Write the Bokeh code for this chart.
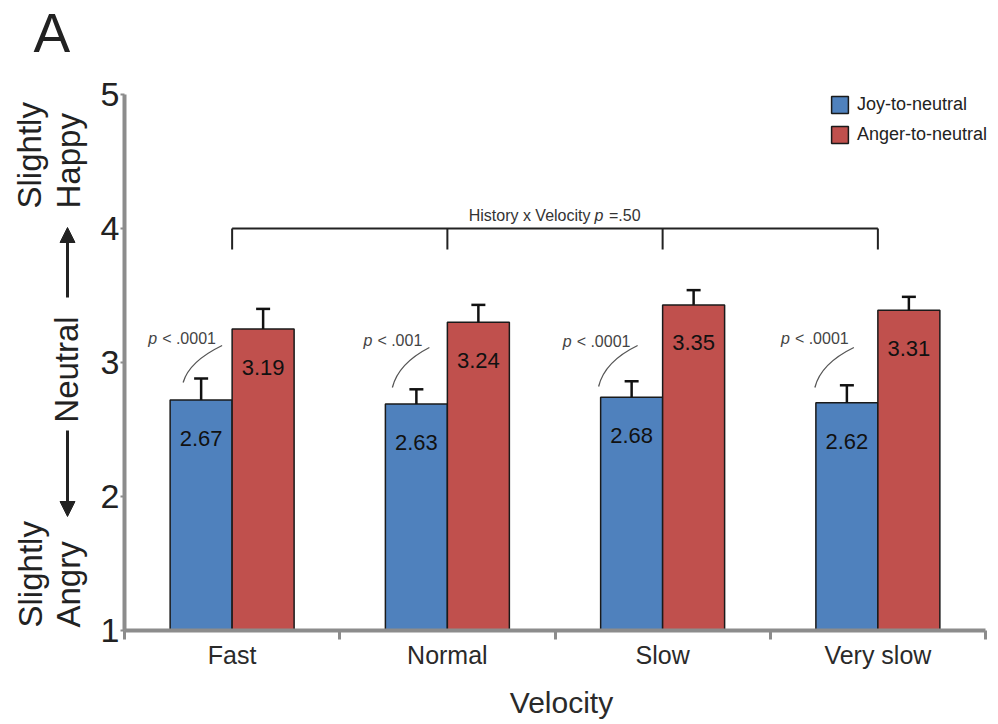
import numpy as np
from math import pi
from bokeh.plotting import figure
from bokeh.layouts import row
from bokeh.models import (ColumnDataSource, Range1d, FixedTicker, Legend, LegendItem,
                          Label, Arrow, NormalHead, Whisker, TeeHead)
from bokeh.core.properties import value
from bokeh.embed import file_html
from bokeh.resources import INLINE

# ---------------- data ----------------
categories = ["Fast", "Normal", "Slow", "Very slow"]
series = ["Joy-to-neutral", "Anger-to-neutral"]
joy_means = [2.72, 2.69, 2.74, 2.70]
anger_means = [3.25, 3.30, 3.43, 3.39]
joy_err_top = [2.88, 2.80, 2.86, 2.83]
anger_err_top = [3.40, 3.43, 3.54, 3.49]
joy_labels = ["2.67", "2.63", "2.68", "2.62"]
anger_labels = ["3.19", "3.24", "3.35", "3.31"]
p_values = ["< .0001", "< .001", "< .0001", "< .0001"]
interaction_text = "History x Velocity"
interaction_p = "=.50"
y_ticks = [1, 2, 3, 4, 5]
x_title = "Velocity"
panel_label = "A"
y_words_top = ["Slightly", "Happy"]
y_word_mid = "Neutral"
y_words_bottom = ["Slightly", "Angry"]

# ---------------- layout ----------------
FONT = "Liberation Sans"
PAGE_W, PAGE_H = 998, 724
LEFT_W = 90                      # side panel with the semantic y labels
MAIN_W = PAGE_W - LEFT_W
AX_X0, AX_X1 = 124, 985          # page px of x = 0 and x = 4
AX_Y1, AX_Y5 = 630, 94           # page px of y = 1 and y = 5
SX = (AX_X1 - AX_X0) / 4.0       # px per x unit
SY = (AX_Y1 - AX_Y5) / 4.0       # px per y unit
PXX, PXY = 1 / SX, 1 / SY
BOTTOM = PAGE_H - AX_Y1

def X(px):
    return (px - AX_X0) * PXX

def Y(py):
    return 1 + (AX_Y1 - py) * PXY

BLUE, RED = "#4F81BD", "#C0504D"
AX = "#8c8c8c"
INK = "#222222"

xc = np.arange(len(categories)) + 0.5
bw = 0.288

x_range = Range1d(0, X(PAGE_W))
y_range = Range1d(1, Y(0))
p = figure(width=MAIN_W, height=PAGE_H, x_range=x_range, y_range=y_range, title=None,
           output_backend="svg", toolbar_location=None,
           min_border_left=AX_X0 - LEFT_W, min_border_right=0, min_border_top=0,
           min_border_bottom=BOTTOM)
p.outline_line_color = None
p.xgrid.visible = False
p.ygrid.visible = False

joy_src = ColumnDataSource(dict(x=xc - bw / 2, top=joy_means, err=joy_err_top, lab=joy_labels,
                                ly=np.array(joy_means) - 38.5 * PXY))
ang_src = ColumnDataSource(dict(x=xc + bw / 2, top=anger_means, err=anger_err_top, lab=anger_labels,
                                ly=np.array(anger_means) - 38 * PXY))

r_joy = p.vbar(x="x", top="top", bottom=1, width=bw, source=joy_src,
               fill_color=BLUE, line_color="#1a1a1a", line_width=1.5)
r_ang = p.vbar(x="x", top="top", bottom=1, width=bw, source=ang_src,
               fill_color=RED, line_color="#1a1a1a", line_width=1.5)

for s in (joy_src, ang_src):
    w = Whisker(source=s, base="x", lower="top", upper="err",
                upper_head=TeeHead(size=14, line_width=2.5, line_color="#111111"),
                lower_head=None, line_width=2.5, line_color="#111111", level="glyph")
    p.add_layout(w)
    p.text(x="x", y="ly", text="lab", source=s, text_align="center", text_baseline="middle",
           text_font=value(FONT), text_font_size="22px", text_color="#111111")

# ---------------- p-value annotations ----------------
txt_dx = np.array([-84, -84, -100, -97]) * PXX
txt_mid = [Y(338), Y(340), Y(341), Y(338)]
arc_x0 = xc + np.array([-49, -55, -64, -63]) * PXX
arc_x1 = xc + np.array([-10, -18, -25, -24]) * PXX
arc_y0 = [Y(382), Y(387), Y(386), Y(387)]
arc_y1 = [Y(345), Y(347), Y(345), Y(347)]
p.text(x=list(xc + txt_dx), y=txt_mid, text=["p"] * len(categories),
       text_font=value(FONT), text_font_size="16px", text_font_style="italic",
       text_color="#444444", text_baseline="middle", text_align="left")
p.text(x=list(xc + txt_dx), y=txt_mid, text=p_values, x_offset=14,
       text_font=value(FONT), text_font_size="16px",
       text_color="#444444", text_baseline="middle", text_align="left")
p.quadratic(x0=list(arc_x0), y0=arc_y0, x1=list(arc_x1), y1=arc_y1,
            cx=list(arc_x0 + 6 * PXX), cy=list(np.array(arc_y1) - 16 * PXY),
            line_color="#555555", line_width=1.3)

# ---------------- interaction bracket ----------------
br_y, br_tick = 4.0, 21 * PXY
p.segment(x0=[xc[0]], x1=[xc[-1]], y0=[br_y], y1=[br_y], line_color=INK, line_width=2)
p.segment(x0=list(xc), x1=list(xc), y0=[br_y] * len(xc), y1=[br_y - br_tick] * len(xc),
          line_color=INK, line_width=2)
mid = float(np.mean([xc[0], xc[-1]]))
by = Y(215)
hist_style = dict(text_baseline="middle", text_font=FONT, text_font_size="16px",
                  text_color="#333333")
p.add_layout(Label(x=mid, y=by, x_offset=35.5, text=interaction_text, text_align="right",
                   **hist_style))
p.add_layout(Label(x=mid, y=by, x_offset=39.5, text="p", text_align="left",
                   text_font_style="italic", **hist_style))
p.add_layout(Label(x=mid, y=by, x_offset=54, text=interaction_p, text_align="left",
                   **hist_style))

# ---------------- axes ----------------
xa = p.xaxis[0]
xa.bounds = (0, 4)
xa.ticker = FixedTicker(ticks=list(xc), minor_ticks=[0, 1, 2, 3, 4])
xa.major_label_overrides = {float(x): c for x, c in zip(xc, categories)}
xa.major_tick_out = 0
xa.major_tick_in = 0
xa.minor_tick_out = 9
xa.minor_tick_in = 0
xa.minor_tick_line_color = AX
xa.minor_tick_line_width = 3
xa.axis_line_color = AX
xa.axis_line_width = 4
xa.major_label_standoff = 1
xa.major_label_text_font = FONT
xa.major_label_text_font_size = "25px"
xa.major_label_text_color = "#2a2a2a"
xa.axis_label = x_title
xa.axis_label_text_font = FONT
xa.axis_label_text_font_size = "30px"
xa.axis_label_text_font_style = "normal"
xa.axis_label_text_color = "#2a2a2a"
xa.axis_label_standoff = 14

ya = p.yaxis[0]
ya.bounds = (1, 5)
ya.ticker = FixedTicker(ticks=y_ticks, minor_ticks=[])
ya.major_tick_out = 4
ya.major_tick_in = 0
ya.major_tick_line_color = AX
ya.major_tick_line_width = 2
ya.axis_line_color = AX
ya.axis_line_width = 4
ya.major_label_standoff = 1
ya.major_label_text_font = FONT
ya.major_label_text_font_size = "34px"
ya.major_label_text_color = INK

# ---------------- legend ----------------
legend = Legend(items=[LegendItem(label=series[0], renderers=[r_joy]),
                       LegendItem(label=series[1], renderers=[r_ang])],
                location=(831 - 2 - AX_X0, AX_Y1 - 145), orientation="vertical",
                glyph_width=21, glyph_height=21, label_height=20, label_standoff=7,
                spacing=9, padding=0, margin=0, border_line_color=None,
                background_fill_alpha=0, label_text_font=FONT,
                label_text_font_size="18px", label_text_color=INK)
p.add_layout(legend)

# ---------------- left panel: panel label & semantic y labels ----------------
# its frame is aligned with the main frame (page y 0 .. AX_Y1); data y = PAGE_H - page y
lp = figure(width=LEFT_W, height=PAGE_H, x_range=Range1d(0, LEFT_W),
            y_range=Range1d(BOTTOM, PAGE_H),
            title=None, output_backend="svg", toolbar_location=None,
            x_axis_type=None, y_axis_type=None,
            min_border_left=0, min_border_right=0, min_border_top=0, min_border_bottom=BOTTOM)
lp.outline_line_color = None
lp.xgrid.visible = False
lp.ygrid.visible = False

def ly(py):
    return PAGE_H - py

lp.add_layout(Label(x=33, y=ly(32), text=panel_label, text_font=FONT, text_font_size="55px",
                    text_align="left", text_baseline="middle", text_color=INK))
ylab = dict(angle=pi / 2, text_font=FONT, text_font_size="33px", text_color=INK,
            text_baseline="middle")
lp.add_layout(Label(x=29, y=ly(208), text=y_words_top[0], text_align="left", **ylab))
lp.add_layout(Label(x=68, y=ly(208), text=y_words_top[1], text_align="left", **ylab))
lp.add_layout(Label(x=66, y=ly(369), text=y_word_mid, text_align="center", **ylab))
lp.add_layout(Label(x=30, y=ly(627), text=y_words_bottom[0], text_align="left", **ylab))
lp.add_layout(Label(x=68, y=ly(627), text=y_words_bottom[1], text_align="left", **ylab))
for ys, ye in ((297, 227), (430, 516)):
    lp.add_layout(Arrow(x_start=67, y_start=ly(ys), x_end=67, y_end=ly(ye),
                        line_width=3, line_color=INK,
                        end=NormalHead(size=15, fill_color=INK, line_color=INK)))

layout = row(lp, p)
open("out.html", "w").write(file_html(layout, INLINE))
